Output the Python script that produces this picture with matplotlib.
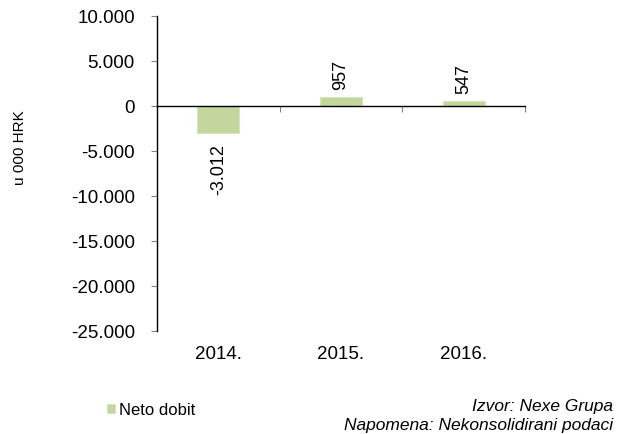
import matplotlib
matplotlib.use('Agg')
import matplotlib.pyplot as plt
import numpy as np

plt.rcParams['font.family'] = ['Liberation Sans', 'DejaVu Sans']

# data
years = ['2014.', '2015.', '2016.']
neto_dobit = [-3012, 957, 547]
y_ticks = [10000, 5000, 0, -5000, -10000, -15000, -20000, -25000]

bar_color = '#c3d69b'

def fmt(v):
    return f'{v:,.0f}'.replace(',', '.')

fig = plt.figure(figsize=(6.21, 4.35), dpi=100)
ax = fig.add_axes([157 / 621, 1 - 332 / 435, 368 / 621, 315 / 435])

x = np.arange(len(years))
bars = ax.bar(x, neto_dobit, width=0.345, color=bar_color, edgecolor='#d7e4bd', linewidth=0.8,
              label='Neto dobit', zorder=2)

ax.set_xlim(-0.5, len(years) - 0.5)
ax.set_ylim(-25000, 10000)
ax.set_yticks(y_ticks)
ax.set_yticklabels([fmt(v) for v in y_ticks], fontsize=13.5)
ax.tick_params(axis='y', length=4, width=0.8, color='#808080', pad=12)
ax.set_ylabel('u 000 HRK', fontsize=11)
ax.yaxis.set_label_coords(-(157 - 27) / 368, (332 - 148) / 315)

for side in ['top', 'right']:
    ax.spines[side].set_visible(False)
ax.spines['left'].set_linewidth(1.0)
ax.spines['bottom'].set_position(('data', 0))
ax.spines['bottom'].set_linewidth(1.0)
ax.set_xticks(np.arange(len(years) + 1) - 0.5)
ax.set_xticklabels([])
ax.tick_params(axis='x', direction='out', length=4, width=0.8, color='#808080')

sec = ax.secondary_xaxis('bottom')
sec.set_xticks(x)
sec.set_xticklabels(years, fontsize=13.5)
sec.tick_params(length=0, pad=10)
sec.spines['bottom'].set_visible(False)

for b, v in zip(bars, neto_dobit):
    cx = b.get_x() + b.get_width() / 2
    if v >= 0:
        ax.annotate(fmt(v), (cx, v), xytext=(0, 6), textcoords='offset points',
                    rotation=90, ha='center', va='bottom', fontsize=13)
    else:
        ax.annotate(fmt(v), (cx, v), xytext=(0, -7), textcoords='offset points',
                    rotation=90, ha='center', va='top', fontsize=13)

fig.legend(handles=[bars], labels=['Neto dobit'], loc='center left',
           bbox_to_anchor=(107 / 621, 1 - 411 / 435), frameon=False, fontsize=12,
           handlelength=0.5, handleheight=0.45, handletextpad=0.25,
           borderpad=0, borderaxespad=0)

fig.text(613 / 621, 1 - 407 / 435, 'Izvor: Nexe Grupa', ha='right', va='center',
         fontsize=12.5, style='italic')
fig.text(613 / 621, 1 - 426 / 435, 'Napomena: Nekonsolidirani podaci', ha='right', va='center',
         fontsize=12.5, style='italic')

fig.savefig('out.png', dpi=100)
